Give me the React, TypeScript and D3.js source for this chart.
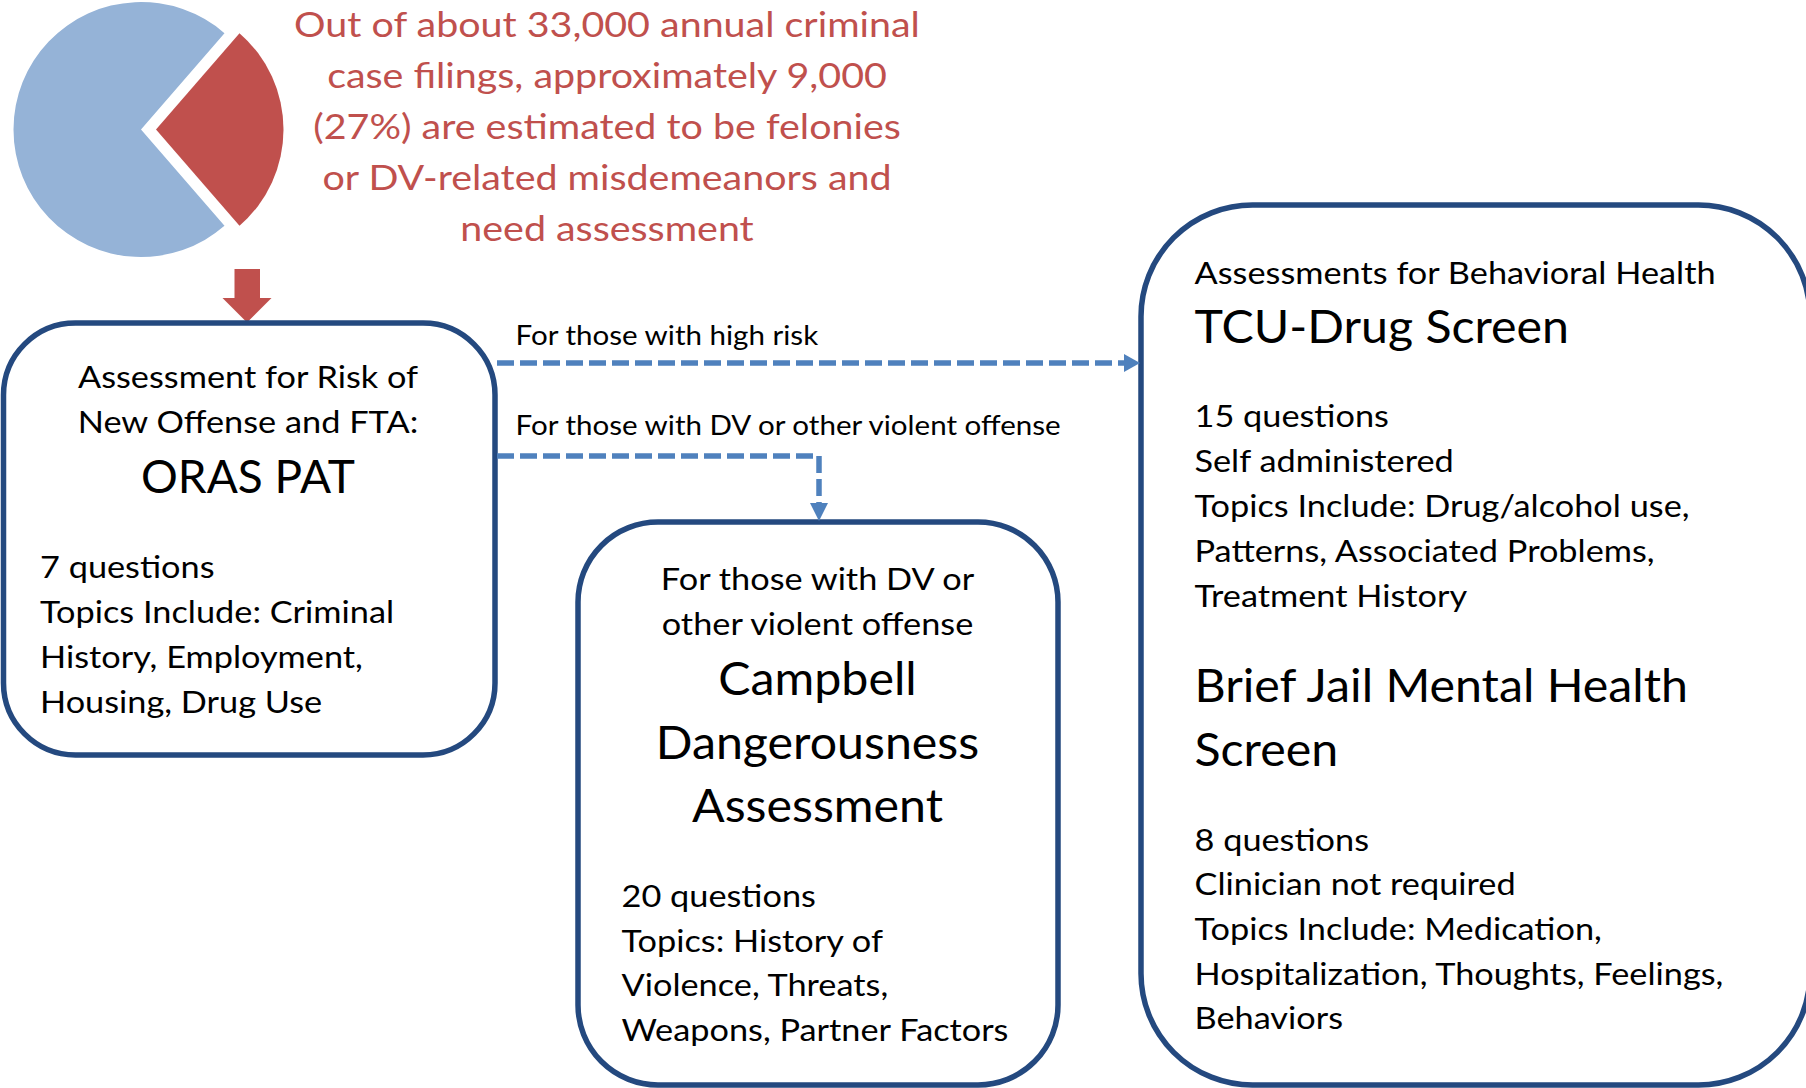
import React, { useRef, useEffect } from 'react';
import * as d3 from 'd3';

// annual criminal case filings split (red slice = needs assessment)
const filingShares = [
  { label: 'Felonies or DV-related misdemeanors', value: 9000 },
  { label: 'Other filings', value: 24000 },
];
const sliceColors = ['#C0504D', '#95B3D7'];

const summaryLines = [
  'Out of about 33,000 annual criminal',
  'case filings, approximately 9,000',
  '(27%) are estimated to be felonies',
  'or DV-related misdemeanors and',
  'need assessment',
];

const orasIntro = ['Assessment for Risk of', 'New Offense and FTA:'];
const orasTitle = ['ORAS PAT'];
const orasBody = ['7 questions', 'Topics Include: Criminal', 'History, Employment,', 'Housing, Drug Use'];

const campbellIntro = ['For those with DV or', 'other violent offense'];
const campbellTitle = ['Campbell', 'Dangerousness', 'Assessment'];
const campbellBody = ['20 questions', 'Topics: History of', 'Violence, Threats,', 'Weapons, Partner Factors'];

const behavioralIntro = ['Assessments for Behavioral Health'];
const tcuTitle = ['TCU-Drug Screen'];
const tcuBody = [
  '15 questions',
  'Self administered',
  'Topics Include: Drug/alcohol use,',
  'Patterns, Associated Problems,',
  'Treatment History',
];
const bjmhsTitle = ['Brief Jail Mental Health', 'Screen'];
const bjmhsBody = [
  '8 questions',
  'Clinician not required',
  'Topics Include: Medication,',
  'Hospitalization, Thoughts, Feelings,',
  'Behaviors',
];

const connectorLabels = ['For those with high risk', 'For those with DV or other violent offense'];

const FONT = 'Lato, "Open Sans", sans-serif';
// [font size, horizontal stretch] per text style
const BODY = [30.5, 1.125];
const TITLE = [46, 1.05];
const RED = [35.5, 1.11];
const LABEL = [27, 1.095];

const App = () => {
  const svgRef = useRef(null);

  useEffect(() => {
    const svg = d3.select(svgRef.current);
    svg.selectAll('*').remove();

    const width = 1806;
    const height = 1088;
    svg.attr('width', width).attr('height', height);

    // text helper: one <text> per line, stretched a little to mimic the wider original face
    const lines = (items, x, y0, step, style, anchor = 'start', fill = '#000') => {
      svg.append('g')
        .selectAll('text')
        .data(items)
        .join('text')
        .attr('transform', (d, i) => `translate(${x},${y0 + i * step}) scale(${style[1]},1)`)
        .attr('text-anchor', anchor)
        .attr('font-family', FONT)
        .attr('font-size', style[0])
        .attr('fill', fill)
        .text(d => d);
    };

    // pie
    const total = d3.sum(filingShares, d => d.value);
    const redShare = filingShares[0].value / total;
    const start = Math.PI / 2 - Math.PI * redShare;
    const pie = d3.pie().sort(null).value(d => d.value)
      .startAngle(start).endAngle(start + 2 * Math.PI);
    const arc = d3.arc().innerRadius(0).outerRadius(127.5);
    const explode = 15;
    svg.append('g')
      .attr('transform', 'translate(141,129.5)')
      .selectAll('path')
      .data(pie(filingShares))
      .join('path')
      .attr('d', arc)
      .attr('fill', (d, i) => sliceColors[i])
      .attr('transform', (d, i) => {
        if (i !== 0) return null;
        const mid = (d.startAngle + d.endAngle) / 2;
        return `translate(${explode * Math.sin(mid)},${-explode * Math.cos(mid)})`;
      });

    lines(summaryLines, 607, 37, 51, RED, 'middle', '#C0504D');

    // red block arrow down into the first box
    const ra = d3.path();
    ra.moveTo(234.5, 269);
    ra.lineTo(260, 269);
    ra.lineTo(260, 298);
    ra.lineTo(271.5, 298);
    ra.lineTo(247, 322.5);
    ra.lineTo(222.5, 298);
    ra.lineTo(234.5, 298);
    ra.closePath();
    svg.append('path').attr('d', ra.toString()).attr('fill', '#C0504D');

    // rounded boxes (corner = 1/6 of the shorter side)
    const boxes = [
      { x0: 3.5, y0: 323, x1: 495, y1: 755 },
      { x0: 578, y0: 522, x1: 1058, y1: 1085 },
      { x0: 1141, y0: 205, x1: 1810, y1: 1085 },
    ];
    svg.append('g')
      .selectAll('rect')
      .data(boxes)
      .join('rect')
      .attr('x', d => d.x0)
      .attr('y', d => d.y0)
      .attr('width', d => d.x1 - d.x0)
      .attr('height', d => d.y1 - d.y0)
      .attr('rx', d => Math.min(d.x1 - d.x0, d.y1 - d.y0) / 6)
      .attr('fill', '#fff')
      .attr('stroke', '#24497F')
      .attr('stroke-width', 5.5);

    // dashed connectors
    const line = d3.line();
    const blue = '#4F81BD';
    const routes = [
      [[497, 363], [1124, 363]],
      [[497, 456], [819, 456], [819, 503]],
    ];
    svg.append('g')
      .selectAll('path')
      .data(routes)
      .join('path')
      .attr('d', line)
      .attr('fill', 'none')
      .attr('stroke', blue)
      .attr('stroke-width', 5.5)
      .attr('stroke-dasharray', '17 6')
      .attr('stroke-linejoin', 'round');
    const heads = [
      [[1124, 354], [1140, 363], [1124, 372]],
      [[810, 503], [819, 521], [828, 503]],
    ];
    svg.append('g')
      .selectAll('path')
      .data(heads)
      .join('path')
      .attr('d', d => line(d) + 'Z')
      .attr('fill', blue);

    lines(connectorLabels.slice(0, 1), 515.5, 345, 0, LABEL);
    lines(connectorLabels.slice(1), 515.5, 435, 0, LABEL);

    // box 1
    lines(orasIntro, 248, 388.3, 45, BODY, 'middle');
    lines(orasTitle, 248, 493.3, 0, [46, 1.0], 'middle');
    lines(orasBody, 40, 578.3, 44.8, BODY);

    // box 2
    lines(campbellIntro, 817.5, 590, 44.5, BODY, 'middle');
    lines(campbellTitle, 817.5, 695, 63.7, TITLE, 'middle');
    lines(campbellBody, 621.5, 906.8, 44.8, BODY);

    // box 3
    lines(behavioralIntro, 1194.5, 284, 0, BODY);
    lines(tcuTitle, 1194.5, 343.3, 0, TITLE);
    lines(tcuBody, 1194.5, 427.3, 44.85, BODY);
    lines(bjmhsTitle, 1194.5, 701.7, 64.3, TITLE);
    lines(bjmhsBody, 1194.5, 850.7, 44.65, BODY);
  }, []);

  return (
    <svg
      ref={svgRef}
      width={1806}
      height={1088}
      style={{ position: 'absolute', left: 0, top: 0, display: 'block', background: '#fff' }}
    ></svg>
  );
};

export default App;
